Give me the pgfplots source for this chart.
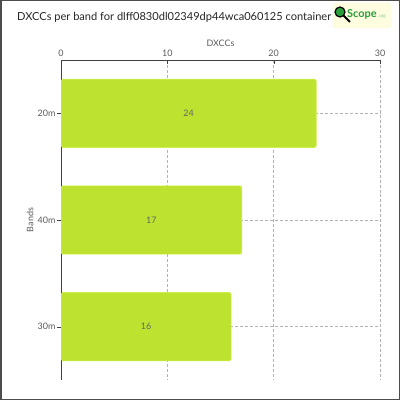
\documentclass[border=0pt]{standalone}
\usepackage{pgfplots}
\pgfplotsset{compat=1.18}
\usepackage{fontspec}
\setmainfont{Lato}
\definecolor{barfill}{RGB}{190,226,48}
\definecolor{baredge}{RGB}{205,240,70}
\definecolor{txt}{RGB}{90,90,90}
\definecolor{logogreen}{RGB}{40,160,60}
\begin{document}
\begin{tikzpicture}
% frame
\draw[color=black!70, line width=1.5bp] (0.75bp,0.75bp) rectangle (399.25bp,399.25bp);
% logo
\draw[rounded corners=3bp, color=yellow!60!green!15, fill=yellow!20!white!60] (333bp,397bp) rectangle (391bp,372bp);
% title
\node[anchor=west, inner sep=0pt, font=\fontsize{11.1}{12}\selectfont, text=black!85] at (17bp,383bp) {DXCCs per band for dlff0830dl02349dp44wca060125 container};
\fill[logogreen] (340bp,388bp) circle (5bp);
\draw[black, line width=1.2bp] (340bp,388bp) circle (5bp);
\draw[black, line width=2bp] (343.5bp,384.5bp) -- (350bp,378bp);
\node[anchor=west, inner sep=0pt, text=logogreen, font=\bfseries\fontsize{11}{12}\selectfont] at (347bp,386bp) {Scope};
\node[anchor=west, inner sep=0pt, text=logogreen!60, font=\fontsize{4.5}{5}\selectfont] at (378bp,383bp) {.org};
\begin{axis}[
	at={(61bp,340bp)}, anchor=north west,
	scale only axis,
	width=319bp, height=320bp,
	xbar,
	bar width=0.64,
	axis x line*=top,
	axis y line*=left,
	xmin=0, xmax=30,
	ymin=-0.5, ymax=2.5,
	y dir=reverse,
	xtick={0,10,20,30},
	ytick={0,1,2},
	yticklabels={20m,40m,30m},
	xmajorgrids=true,
	ymajorgrids=true,
	grid style={densely dashed, color=black!30},
	axis line style={color=black!75, line width=0.8bp},
	major tick length=4bp,
	tick style={color=black!75},
	ticklabel style={text=txt, font=\fontsize{9}{11}\selectfont},
	yticklabel style={xshift=2bp},
	/pgf/number format/assume math mode=true,
	xlabel={DXCCs},
	ylabel={Bands},
	label style={text=txt, font=\fontsize{9}{11}\selectfont},
	xlabel style={at={(axis description cs:0.5,1)}, anchor=south, yshift=10bp},
	ylabel style={at={(axis description cs:0,0.5)}, anchor=south, yshift=24bp},
	visualization depends on={rawx \as \rawx},
	nodes near coords,
	every node near coord/.append style={anchor=center, xshift=-\rawx*5.334pt, text=black!60, font=\fontsize{9}{10}\selectfont},
]
\addplot[fill=barfill, draw=baredge, line width=0.6bp, rounded corners=1.5bp] coordinates {
	(24,0)
	(17,1)
	(16,2)
};
\end{axis}
\end{tikzpicture}
\end{document}
